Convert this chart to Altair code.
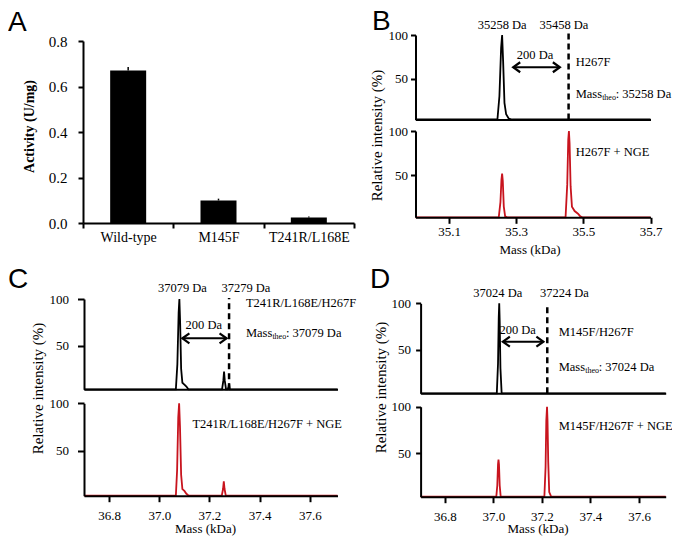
import altair as alt
import pandas as pd

SERIF = "Liberation Serif"
SANS = "Liberation Sans"
RED = "#c8141e"
W, H = 664, 530  # whole figure drawing area

# ---------------- Panel A data ----------------
a_variants = ["Wild-type", "M145F", "T241R/L168E"]
a_activity = [0.670, 0.099, 0.024]
a_err = [0.016, 0.008, 0.005]

# ---------------- Panel B data ----------------
b_top_mass = [35.000, 35.244, 35.250, 35.255, 35.258, 35.261, 35.265, 35.270, 35.278, 35.288, 35.700]
b_top_int = [0, 0, 30, 85, 100, 70, 22, 9, 4, 0, 0]
b_bot_mass = [35.000, 35.248, 35.253, 35.256, 35.258, 35.260, 35.263, 35.267, 35.273, 35.447, 35.452,
              35.455, 35.457, 35.459, 35.462, 35.466, 35.474, 35.484, 35.491, 35.497, 35.700]
b_bot_int = [0, 0, 20, 45, 52, 44, 15, 4, 0, 0, 40, 90, 100, 86, 38, 15, 10, 7, 4, 0, 0]

# ---------------- Panel C data ----------------
c_top_mass = [36.700, 37.066, 37.072, 37.077, 37.080, 37.083, 37.087, 37.092, 37.100, 37.108, 37.116,
              37.126, 37.250, 37.255, 37.258, 37.261, 37.266, 37.273, 37.276, 37.278, 37.281, 37.710]
c_top_int = [0, 0, 30, 85, 100, 75, 25, 10, 8, 6, 3, 0, 0, 12, 22, 12, 0, 0, 6, 9, 0, 0]
c_bot_mass = [36.700, 37.066, 37.071, 37.0755, 37.079, 37.0825, 37.087, 37.092, 37.100, 37.108, 37.117,
              37.249, 37.254, 37.257, 37.260, 37.265, 37.710]
c_bot_int = [0, 0, 30, 85, 100, 75, 25, 10, 8, 5, 0, 0, 10, 18, 10, 0, 0]

# ---------------- Panel D data ----------------
d_top_mass = [36.700, 37.014, 37.019, 37.022, 37.024, 37.026, 37.029, 37.034, 37.710]
d_top_int = [0, 0, 35, 85, 100, 80, 30, 0, 0]
d_bot_mass = [36.700, 37.012, 37.016, 37.019, 37.021, 37.023, 37.026, 37.030, 37.210, 37.215, 37.218,
              37.221, 37.223, 37.226, 37.230, 37.238, 37.250, 37.710]
d_bot_int = [0, 0, 15, 38, 43, 38, 15, 0, 0, 35, 85, 100, 85, 40, 8, 3, 0, 0]

# ---------------- annotations ----------------
b_peak_labels = [("35258 Da", 35.258, 111.5), ("35458 Da", 35.442, 111.5)]
c_peak_labels = [("37079 Da", 37.092, 112.0), ("37279 Da", 37.345, 112.0)]
d_peak_labels = [("37024 Da", 37.018, 111.0), ("37224 Da", 37.2925, 111.0)]
b_dash, c_dash, d_dash = 35.456, 37.278, 37.222
b_arrow = (35.291, 35.430, 63.0)
c_arrow = (37.092, 37.268, 57.8)
d_arrow = (37.039, 37.206, 58.6)
b_delta = ("200 Da", 35.356, 77.0)
c_delta = ("200 Da", 37.177, 72.0)
d_delta = ("200 Da", 37.100, 71.0)
b_top_name = ("H267F", 35.477, 69.0)
c_top_name = ("T241R/L168E/H267F", 37.345, 95.4)
d_top_name = ("M145F/H267F", 37.269, 69.4)
b_bot_name = ("H267F + NGE", 35.477, 76.7)
c_bot_name = ("T241R/L168E/H267F + NGE", 37.132, 78.3)
d_bot_name = ("M145F/H267F + NGE", 37.269, 79.5)
b_theo = (": 35258 Da", 35.477, 32.5)
c_theo = (": 37079 Da", 37.345, 63.2)
d_theo = (": 37024 Da", 37.269, 31.7)

# ---------------- sub-plot frames (pixels inside the figure) ----------------
A_X, A_Y = [75, 346], [215, 33]
B_X, B_TOP_Y, B_BOT_Y = [407.5, 642.5], [111.5, 27], [209.3, 123]
C_X, C_TOP_Y, C_BOT_Y = [76, 329.5], [381.3, 291], [487.7, 395.3]
D_X, D_TOP_Y, D_BOT_Y = [412.6, 657.7], [385.3, 295.3], [488.7, 398.7]

TXT = 12.5


def xscale(dom, rng):
    return alt.Scale(domain=dom, range=rng, nice=False, zero=False)


def yscale(rng, clamp=False):
    return alt.Scale(domain=[3, 100], range=rng, nice=False, zero=False, clamp=clamp)


def x_axis_hidden(ybase):
    return alt.Axis(orient="bottom", offset=ybase - H, labels=False, ticks=False, title=None,
                    zindex=1, domainWidth=2, domainColor="black")


def x_axis_shown(ybase, values, label_pad, title_x, title_y):
    return alt.Axis(orient="bottom", offset=ybase - H, values=values, format=".1f", tickSize=6,
                    labelPadding=label_pad, labelFontSize=13, labelFont=SERIF, labelFlush=False,
                    labelOverlap=False, labelColor="black",
                    title="Mass (kDa)", titleFontSize=13, titleFont=SERIF, titleFontWeight="normal",
                    titleColor="black", titleX=title_x, titleY=title_y,
                    titleAlign="center", titleBaseline="middle", zindex=1,
                    domainWidth=2, domainColor="black", tickWidth=2, tickColor="black")


def y_axis(xleft, tick, pad, title=None, title_x=0, title_y=0):
    kw = dict(orient="left", offset=-xleft, values=[50, 100], tickSize=tick, labelPadding=pad,
              labelFontSize=13, labelFont=SERIF, labelColor="black", zindex=1,
              domainWidth=2, domainColor="black", tickWidth=2, tickColor="black")
    if title:
        kw.update(title=title, titleX=title_x, titleY=title_y, titleAngle=270,
                  titleAlign="center", titleBaseline="middle", titleFontSize=15,
                  titleFont=SERIF, titleFontWeight="normal", titleColor="black")
    else:
        kw.update(title=None)
    return alt.Axis(**kw)


def enc(dom, xr, yr, xaxis=None, yaxis=None, clamp=False):
    return dict(
        x=alt.X("mass:Q", scale=xscale(dom, xr), axis=xaxis),
        y=alt.Y("intensity:Q", scale=yscale(yr, clamp), axis=yaxis),
    )


def trace(mass, inten, color, dom, xr, yr, xaxis, yaxis):
    df = pd.DataFrame({"mass": mass, "intensity": inten})
    return alt.Chart(df).mark_line(color=color, strokeWidth=1.8).encode(
        **enc(dom, xr, yr, xaxis, yaxis, clamp=True))


def texts(rows, dom, xr, yr, align, size=TXT, dx=0, dy=0):
    df = pd.DataFrame(rows, columns=["label", "mass", "intensity"])
    return alt.Chart(df).mark_text(align=align, baseline="middle", font=SERIF, fontSize=size,
                                   dx=dx, dy=dy, color="black").encode(
        text="label:N", **enc(dom, xr, yr))


def theo(row, dom, xr, yr):
    value, m, i = row
    return [
        texts([("Mass", m, i)], dom, xr, yr, "left"),
        texts([("theo", m, i)], dom, xr, yr, "left", size=8, dx=26.5, dy=4),
        texts([(value, m, i)], dom, xr, yr, "left", dx=40),
    ]


def dashed(m, top, dom, xr, yr):
    df = pd.DataFrame({"mass": [m], "intensity": [3], "intensity2": [top]})
    return alt.Chart(df).mark_rule(strokeDash=[6, 4], strokeWidth=2.5, color="black").encode(
        y2=alt.Y2("intensity2"), **enc(dom, xr, yr))


def arrow(a, dom, xr, yr):
    x1, x2, yv = a
    line = alt.Chart(pd.DataFrame({"mass": [x1], "mass2": [x2], "intensity": [yv]})).mark_rule(
        strokeWidth=2, color="black").encode(x2=alt.X2("mass2"), **enc(dom, xr, yr))
    left = alt.Chart(pd.DataFrame({"mass": [x1], "intensity": [yv]})).mark_point(
        shape="M 1.4 -1 L 0 0 L 1.4 1", size=100, filled=False, strokeWidth=2.2,
        color="black", opacity=1).encode(**enc(dom, xr, yr))
    right = alt.Chart(pd.DataFrame({"mass": [x2], "intensity": [yv]})).mark_point(
        shape="M -1.4 -1 L 0 0 L -1.4 1", size=100, filled=False, strokeWidth=2.2,
        color="black", opacity=1).encode(**enc(dom, xr, yr))
    return [line, left, right]


def letter(ch, px, py):
    return alt.Chart(pd.DataFrame({"t": [ch]})).mark_text(
        font=SANS, fontSize=28, align="left", baseline="top", color="black").encode(
        text="t:N", x=alt.value(px), y=alt.value(py))


def spectrum_panel(dom, xr, top_yr, bot_yr, top_trace, bot_trace, ticks, xlab_pad, xtitle_x,
                   xtitle_y, ytick, ylab_pad, ytitle_x, ytitle_y, peak_labels, dash, dash_top,
                   arr, delta, top_name, theo_row, bot_name, ch, ch_pos):
    return [
        trace(top_trace[0], top_trace[1], "black", dom, xr, top_yr,
              x_axis_hidden(top_yr[0]), y_axis(xr[0], ytick, ylab_pad)),
        trace(bot_trace[0], bot_trace[1], RED, dom, xr, bot_yr,
              x_axis_shown(bot_yr[0], ticks, xlab_pad, xtitle_x, xtitle_y),
              y_axis(xr[0], ytick, ylab_pad, "Relative intensity (%)", ytitle_x, ytitle_y)),
        dashed(dash, dash_top, dom, xr, top_yr),
        *arrow(arr, dom, xr, top_yr),
        texts(peak_labels, dom, xr, top_yr, "center"),
        texts([delta], dom, xr, top_yr, "center"),
        texts([top_name], dom, xr, top_yr, "left"),
        *theo(theo_row, dom, xr, top_yr),
        texts([bot_name], dom, xr, bot_yr, "left"),
        letter(ch, *ch_pos),
    ]


# ---------------- Panel A ----------------
dfA = pd.DataFrame({"variant": a_variants, "activity": a_activity,
                    "upper": [v + e for v, e in zip(a_activity, a_err)]})
xA = alt.X("variant:N", sort=a_variants,
           scale=alt.Scale(range=A_X, paddingInner=0, paddingOuter=0),
           axis=alt.Axis(orient="bottom", offset=A_Y[0] - H, title=None, labelAngle=0,
                         tickBand="extent", tickSize=5, labelPadding=2, labelFontSize=14,
                         labelFont=SERIF, labelColor="black", domainWidth=2,
                         domainColor="black", tickWidth=2, tickColor="black"))
yA = alt.Y("activity:Q", scale=alt.Scale(domain=[0, 0.8], range=A_Y, nice=False),
           axis=alt.Axis(orient="left", offset=-A_X[0], values=[0, 0.2, 0.4, 0.6, 0.8],
                         format=".1f", tickSize=5, labelPadding=11, labelFontSize=15,
                         labelFont=SERIF, labelColor="black", domainWidth=2,
                         domainColor="black", tickWidth=2, tickColor="black",
                         title="Activity (U/mg)", titleFont=SERIF, titleFontWeight="bold",
                         titleFontSize=14, titleColor="black",
                         titleX=-54, titleY=118, titleAngle=270, titleAlign="center",
                         titleBaseline="middle"))
xA2 = alt.X("variant:N", sort=a_variants,
            scale=alt.Scale(range=A_X, paddingInner=0, paddingOuter=0), axis=None)
yA2 = alt.Y("activity:Q", scale=alt.Scale(domain=[0, 0.8], range=A_Y, nice=False), axis=None)
barsA = alt.Chart(dfA).mark_bar(color="black", size=36).encode(x=xA, y=yA)
errA = alt.Chart(dfA).mark_rule(color="black", strokeWidth=1.5).encode(
    x=xA2, y=yA2, y2=alt.Y2("upper"))
layers_A = [barsA, errA, letter("A", 0, 1)]

# ---------------- Panels B, C, D ----------------
layers_B = spectrum_panel(
    [35.0, 35.7], B_X, B_TOP_Y, B_BOT_Y, (b_top_mass, b_top_int), (b_bot_mass, b_bot_int),
    [35.1, 35.3, 35.5, 35.7], 2.5, 521.5, 32, 5, 3, -39, 127,
    b_peak_labels, b_dash, 102, b_arrow, b_delta, b_top_name, b_theo, b_bot_name, "B", (364, 0))

layers_C = spectrum_panel(
    [36.7, 37.71], C_X, C_TOP_Y, C_BOT_Y, (c_top_mass, c_top_int), (c_bot_mass, c_bot_int),
    [36.8, 37.0, 37.2, 37.4, 37.6], 7.5, 197, 33, 6.5, 9, -47, 380,
    c_peak_labels, c_dash, 101, c_arrow, c_delta, c_top_name, c_theo, c_bot_name, "C", (0, 258))

layers_D = spectrum_panel(
    [36.7, 37.71], D_X, D_TOP_Y, D_BOT_Y, (d_top_mass, d_top_int), (d_bot_mass, d_bot_int),
    [36.8, 37.0, 37.2, 37.4, 37.6], 7.5, 529.5, 32, 5, 5, -40.6, 379,
    d_peak_labels, d_dash, 100, d_arrow, d_delta, d_top_name, d_theo, d_bot_name, "D", (362, 258))

chart = alt.layer(*layers_A, *layers_B, *layers_C, *layers_D).resolve_scale(
    x="independent", y="independent"
).properties(
    width=W, height=H, padding=0, background="white",
    autosize=alt.AutoSizeParams(type="none"),
).configure_view(stroke=None).configure_axis(
    domainColor="black", tickColor="black", labelColor="black", titleColor="black",
    labelFont=SERIF, titleFont=SERIF, titleFontWeight="normal", domainWidth=2,
    tickWidth=2, grid=False
)

chart.save("out.html", embed_options={"renderer": "svg", "actions": False})
